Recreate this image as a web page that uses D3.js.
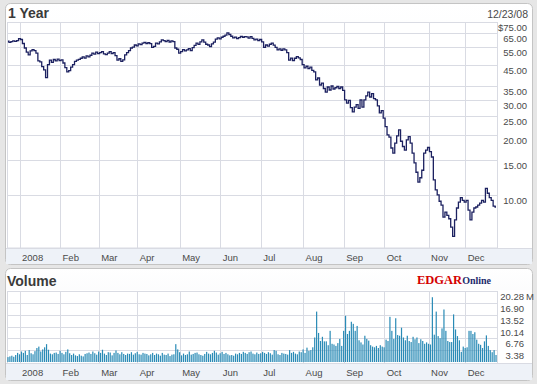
<!DOCTYPE html>
<html>
<head>
<meta charset="utf-8">
<script src="https://cdn.jsdelivr.net/npm/d3@7"></script>
<style>
  body { margin: 0; background: #e6e6e6; }
  svg { display: block; font-family: "Liberation Sans", Arial, sans-serif; }
</style>
</head>
<body>
<div id="chart"></div>
<script>
const width = 537;
const height = 384;

// month ticks: label + trading-day index (0 = Jan 2, 2008)
const monthLabels = ["2008", "Feb", "Mar", "Apr", "May", "Jun", "Jul", "Aug", "Sep", "Oct", "Nov", "Dec"];
const monthIdx = [0, 21, 41, 61, 83, 104, 125, 147, 168, 189, 212, 231];

const priceTicks = [75, 65, 55, 45, 35, 30, 25, 20, 15, 10];
const volumeTicks = [3.38, 6.76, 10.14, 13.52, 16.90, 20.28];

// daily close, starting 6 trading days before Jan 2 2008, ending 12/23/08
const closes = [
  59.0, 58.2, 58.8, 59.3, 58.9, 59.5,
  60.8, 60.2, 57.5, 54.6, 52.0, 50.4, 52.8, 53.6, 53.0, 51.5,
  47.0, 46.5, 44.0, 42.4, 38.8, 45.0, 47.5, 46.2, 47.8, 47.0,
  48.0, 47.2, 47.6, 45.9, 43.5, 41.4, 42.0, 43.8, 45.0, 46.8,
  47.5, 47.9, 48.5, 49.3, 48.6, 49.8, 49.3, 50.2, 51.5, 50.8,
  52.0, 51.2, 51.8, 52.4, 51.0, 50.6, 51.5, 52.3, 51.2, 51.8,
  50.0, 47.5, 48.2, 46.8, 47.6, 50.4, 51.8, 53.0, 54.6, 55.2,
  56.5, 56.0, 57.2, 56.8, 57.8, 58.3, 57.5, 58.0, 57.4, 55.0,
  55.6, 57.8, 57.2, 58.6, 60.0, 59.5, 58.8, 59.6, 58.5, 59.2,
  58.7, 54.6, 53.8, 51.5, 52.4, 53.6, 52.8, 53.4, 54.2, 53.0,
  54.8, 56.2, 57.8, 56.9, 58.6, 60.0, 58.4, 57.0, 56.5, 55.4,
  57.2, 58.4, 60.5, 61.3, 60.6, 61.8, 62.5, 63.4, 65.0, 63.8,
  62.5, 61.3, 61.9, 60.8, 61.6, 62.4, 61.8, 62.3, 62.0, 61.2,
  62.2, 61.0, 60.0, 60.5, 59.4, 60.2, 58.6, 55.0, 56.5, 55.8,
  57.0, 57.8, 56.4, 55.0, 53.4, 54.0, 53.2, 54.0, 53.4, 51.8,
  47.5, 48.6, 47.2, 48.5, 49.4, 48.7, 47.8, 45.0, 43.4, 44.2,
  43.0, 43.8, 42.2, 41.4, 37.8, 38.6, 35.6, 36.4, 34.2, 32.8,
  34.8, 33.6, 35.2, 34.0, 34.5, 35.0, 34.2, 34.8, 33.5, 30.0,
  28.9, 29.8, 27.4, 26.1, 27.6, 28.4, 27.2, 30.0, 27.6, 30.0,
  31.4, 32.8, 31.0, 32.2, 30.4, 30.0, 28.0, 25.8, 26.5, 24.3,
  22.0, 20.0, 19.5, 17.2, 16.2, 18.2, 19.8, 21.2, 18.6, 17.5,
  16.8, 18.9, 19.6, 18.2, 16.2, 14.5, 13.0, 11.6, 12.2, 13.3,
  16.2, 16.8, 17.3, 16.5, 15.5, 11.9, 10.6, 10.0, 9.3, 8.9,
  7.75, 8.2, 7.9, 7.6, 6.9, 6.2, 7.5, 8.6, 9.2, 9.7,
  9.4, 9.2, 9.4, 8.4, 7.5, 8.2, 8.6, 8.7, 8.9, 9.1,
  9.4, 9.2, 10.8, 10.2, 9.7, 9.4, 8.8, 8.7
];

// daily volume, millions
const volumes = [
  1.4, 1.6, 1.8, 1.5, 2.0, 2.6,
  2.2, 3.0, 2.6, 3.2, 2.0, 3.4, 2.5, 2.2, 3.1, 4.0,
  4.4, 3.0, 3.6, 4.2, 5.1, 3.5, 2.4, 2.2, 2.6, 2.7,
  2.3, 3.2, 2.6, 2.2, 2.9, 3.6, 2.5, 2.0, 2.4, 1.9,
  1.7, 2.2, 1.8, 1.6, 2.3, 2.5, 2.7, 2.3, 3.0, 2.5,
  2.1, 3.0, 2.6, 3.5, 2.4, 2.0, 2.8, 2.7, 1.9, 2.6,
  3.3, 2.6, 2.2, 2.8, 2.3, 2.0, 2.4, 2.3, 2.8, 2.1,
  2.5, 2.9, 2.2, 2.1, 2.6, 2.4, 2.3, 1.9, 2.2, 2.6,
  2.0, 2.4, 2.2, 1.8, 2.6, 2.1, 2.0, 2.4, 1.7, 2.1,
  2.2, 5.1, 3.6, 2.8, 1.9, 2.4, 2.0, 2.2, 3.0, 2.1,
  2.3, 2.6, 2.7, 2.2, 2.0, 1.8, 2.3, 2.9, 2.4, 2.2,
  2.6, 3.2, 2.7, 2.1, 2.5, 2.9, 2.3, 2.6, 2.2, 1.9,
  2.0, 1.8, 2.4, 2.2, 2.6, 2.3, 2.9, 2.6, 2.3, 2.8,
  3.0, 2.4, 2.2, 2.7, 2.3, 2.5, 2.9, 2.6, 2.3, 2.8,
  2.5, 2.1, 3.4, 3.2, 2.2, 2.0, 2.6, 2.4, 2.3, 2.1,
  3.4, 2.6, 2.9, 2.4, 2.2, 3.0, 2.8, 3.6, 2.6, 4.1,
  3.2, 3.4, 4.2, 7.0, 14.4, 8.3, 6.0, 7.2, 5.9, 5.9,
  4.8, 8.9, 5.2, 5.0, 4.6, 5.4, 6.6, 4.6, 8.9, 13.2,
  8.0, 8.9, 11.5, 10.9, 8.9, 10.3, 6.2, 5.6, 5.0, 7.5,
  6.6, 6.1, 4.8, 4.4, 4.2, 4.6, 4.0, 4.8, 4.4, 4.2,
  6.4, 6.0, 12.9, 8.9, 6.6, 12.5, 7.7, 7.5, 9.8, 7.0,
  6.2, 7.5, 6.0, 5.7, 7.2, 6.5, 7.0, 5.4, 6.5, 6.0,
  5.2, 5.6, 5.2, 5.0, 18.5, 7.8, 14.4, 7.4, 6.8, 9.6,
  15.0, 8.9, 6.0, 5.7, 5.7, 13.6, 9.3, 7.4, 6.2, 2.9,
  4.4, 4.0, 4.2, 8.9, 8.9, 8.0, 8.5, 6.4, 5.2, 4.9,
  4.0, 5.9, 7.6, 4.6, 3.4, 2.8, 3.4, 2.0
];
const firstIdx = -6;

const svg = d3.select("#chart").append("svg").attr("width", width).attr("height", height);

const defs = svg.append("defs");
const grad = defs.append("linearGradient").attr("id", "hdr").attr("x1", 0).attr("y1", 0).attr("x2", 0).attr("y2", 1);
grad.append("stop").attr("offset", "0%").attr("stop-color", "#ffffff");
grad.append("stop").attr("offset", "100%").attr("stop-color", "#eef0f4");

const x = d3.scaleLinear().domain([-6.5, 247.5]).range([7, 497]);
const y = d3.scaleLog().domain([5.42, 73.7]).range([248, 22]);
const yv = d3.scaleLinear().domain([0, 20.28]).range([362, 291]);

const gridColor = "#d9dbe3";
const labelColor = "#4a4a4a";

// panels
function panel(top, bottom, plotTop, plotBottom) {
  svg.append("rect").attr("x", 5.5).attr("y", top + 0.5).attr("width", 527).attr("height", bottom - top)
    .attr("rx", 5).attr("fill", "url(#hdr)").attr("stroke", "#c4c4c4");
  svg.append("rect").attr("x", 6).attr("y", plotTop).attr("width", 526).attr("height", bottom - plotTop)
    .attr("fill", "#fff");
  svg.append("rect").attr("x", 6).attr("y", plotBottom).attr("width", 526).attr("height", bottom - plotBottom)
    .attr("fill", "#eef2f8");
  svg.append("line").attr("x1", 6).attr("x2", 532).attr("y1", plotBottom + 0.5).attr("y2", plotBottom + 0.5)
    .attr("stroke", gridColor);
}
panel(3, 264, 22, 248);
panel(268, 380, 290, 363);

// titles
svg.append("text").attr("x", 8).attr("y", 18).attr("font-size", 14).attr("font-weight", "bold")
  .attr("fill", "#3a3a3a").text("1 Year");
svg.append("text").attr("x", 528).attr("y", 18).attr("text-anchor", "end").attr("font-size", 10.5)
  .attr("fill", labelColor).text("12/23/08");
svg.append("text").attr("x", 7).attr("y", 286).attr("font-size", 14).attr("font-weight", "bold")
  .attr("fill", "#3a3a3a").text("Volume");

const logo = svg.append("text").attr("x", 417).attr("y", 284)
  .attr("font-family", "Liberation Serif, Times New Roman, serif").attr("font-weight", "bold");
logo.append("tspan").attr("font-size", 12.5).attr("fill", "#d40000").text("EDGAR");
logo.append("tspan").attr("font-size", 10).attr("fill", "#1b2a6b").text("Online");

// price grid
const pg = svg.append("g");
pg.selectAll(".hg").data(priceTicks.filter(d => y(d) > 22.5)).join("line")
  .attr("x1", 7).attr("x2", 497)
  .attr("y1", d => Math.round(y(d)) + 0.5).attr("y2", d => Math.round(y(d)) + 0.5)
  .attr("stroke", gridColor);
pg.selectAll(".vg").data(monthIdx).join("line")
  .attr("x1", d => Math.round(x(d)) + 0.5).attr("x2", d => Math.round(x(d)) + 0.5)
  .attr("y1", 22).attr("y2", 248).attr("stroke", gridColor);
pg.append("rect").attr("x", 7.5).attr("y", 22.5).attr("width", 490).attr("height", 225.5)
  .attr("fill", "none").attr("stroke", gridColor);

pg.selectAll(".pl").data(priceTicks).join("text")
  .attr("x", 527).attr("y", d => Math.max(y(d) + 9, 31))
  .attr("text-anchor", "end").attr("font-size", 9.5).attr("fill", labelColor)
  .text(d => (d === 75 ? "$" : "") + d.toFixed(2));

pg.selectAll(".ml").data(monthIdx).join("text")
  .attr("x", d => x(d) + 2.5).attr("y", 261).attr("font-size", 9.5).attr("fill", labelColor)
  .text((d, i) => monthLabels[i]);

// price line
const priceLine = d3.line()
  .x((d, i) => x(i + firstIdx))
  .y(d => y(d))
  .curve(d3.curveStep);
svg.append("path").datum(closes).attr("d", priceLine)
  .attr("fill", "none").attr("stroke", "#1c2160").attr("stroke-width", 1.3);

// volume grid
const vg = svg.append("g");
vg.selectAll(".hg").data(volumeTicks).join("line")
  .attr("x1", 7).attr("x2", 497)
  .attr("y1", d => Math.round(yv(d)) + 0.5).attr("y2", d => Math.round(yv(d)) + 0.5)
  .attr("stroke", gridColor);
vg.selectAll(".vg").data(monthIdx).join("line")
  .attr("x1", d => Math.round(x(d)) + 0.5).attr("x2", d => Math.round(x(d)) + 0.5)
  .attr("y1", 291).attr("y2", 363).attr("stroke", gridColor);
vg.append("line").attr("x1", 497.5).attr("x2", 497.5).attr("y1", 291).attr("y2", 363).attr("stroke", gridColor);
vg.append("line").attr("x1", 7.5).attr("x2", 7.5).attr("y1", 291).attr("y2", 363).attr("stroke", gridColor);

vg.selectAll(".vl").data(volumeTicks).join("text")
  .attr("x", 524).attr("y", d => yv(d) + 9)
  .attr("text-anchor", "end").attr("font-size", 9.5).attr("fill", labelColor)
  .text(d => d.toFixed(2));
vg.append("text").attr("x", 526).attr("y", yv(20.28) + 9).attr("font-size", 9.5).attr("fill", labelColor).text("M");

vg.selectAll(".ml").data(monthIdx).join("text")
  .attr("x", d => x(d) + 2.5).attr("y", 376).attr("font-size", 9.5).attr("fill", labelColor)
  .text((d, i) => monthLabels[i]);

// volume bars
svg.append("g").selectAll("rect").data(volumes).join("rect")
  .attr("x", (d, i) => x(i + firstIdx) - 0.6)
  .attr("width", 1.2)
  .attr("y", d => yv(d))
  .attr("height", d => yv(0) - yv(d))
  .attr("fill", "#2a8bb6");
</script>
</body>
</html>
